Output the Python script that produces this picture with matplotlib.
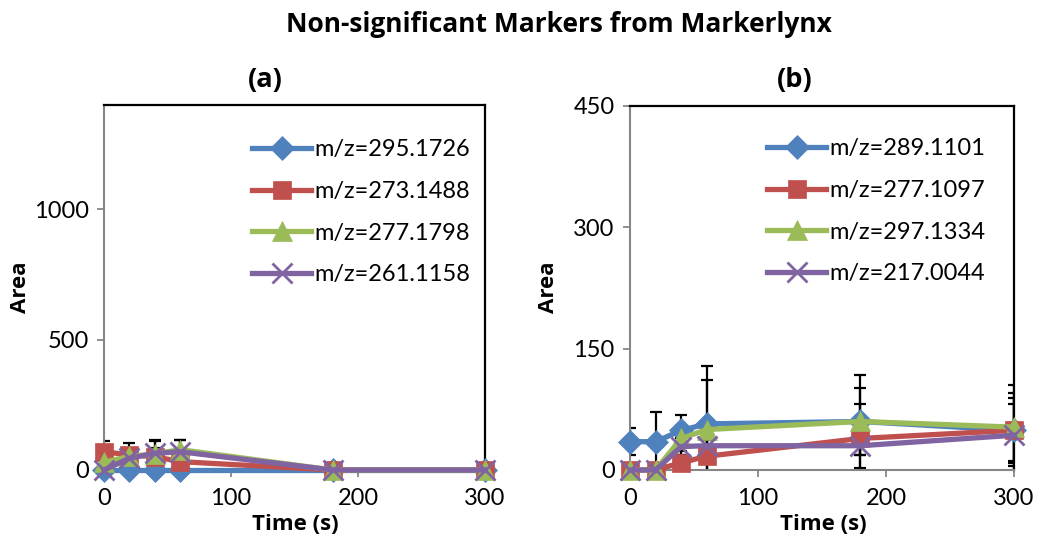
import matplotlib
matplotlib.use("Agg")
import matplotlib.pyplot as plt
from matplotlib.lines import Line2D

plt.rcParams['font.family'] = ['Lato', 'DejaVu Sans']
BOLD_FAMILY = ['Open Sans', 'DejaVu Sans']

# Sampling times (s)
time_s = [0, 20, 40, 60, 180, 300]

# Panel (a) series
labels_a = ["m/z=295.1726", "m/z=273.1488", "m/z=277.1798", "m/z=261.1158"]
area_a_1 = [0, 0, 0, 0, 0, 0]
area_a_2 = [70, 58, 51, 32, 0, 0]
area_a_3 = [30, 52, 62, 78, 0, 0]
area_a_4 = [0, 45, 64, 70, 0, 0]
err_a_1 = [0, 0, 0, 0, 0, 0]
err_a_2 = [40, 45, 35, 30, 0, 0]
err_a_3 = [20, 25, 50, 38, 0, 0]
err_a_4 = [10, 30, 52, 46, 0, 0]

# Panel (b) series
labels_b = ["m/z=289.1101", "m/z=277.1097", "m/z=297.1334", "m/z=217.0044"]
area_b_1 = [35, 35, 49, 57, 60, 49]
area_b_2 = [0, 0, 9, 17, 39, 49]
area_b_3 = [0, 0, 39, 50, 60, 53]
area_b_4 = [0, 0, 29, 30, 30, 43]
err_b_1 = [17, 37, 19, 72, 57, 56]
err_b_2 = [3, 3, 10, 20, 43, 40]
err_b_3 = [3, 3, 15, 61, 41, 42]
err_b_4 = [3, 3, 10, 15, 11, 38]

colors = ["#4F81BD", "#C0504D", "#9BBB59", "#8064A2"]
markers = ["D", "s", "^", "x"]
msizes = [12, 13, 14, 14]

W, H = 1037, 539
fig = plt.figure(figsize=(W / 100, H / 100), dpi=100)


def px_axes(x0, y0, x1, y1):
    return fig.add_axes([x0 / W, (H - y1) / H, (x1 - x0) / W, (y1 - y0) / H])


def style_axes(ax, ymax, yticks):
    ax.set_xlim(0, 300)
    ax.set_ylim(0, ymax)
    ax.set_xticks([0, 100, 200, 300])
    ax.set_yticks(yticks)
    for side in ("left", "bottom"):
        ax.spines[side].set_color("#868686")
        ax.spines[side].set_linewidth(1.5)
    for side in ("top", "right"):
        ax.spines[side].set_color("black")
        ax.spines[side].set_linewidth(1.6)
    ax.tick_params(axis="both", direction="out", length=5, width=1.3,
                   color="#868686", labelsize=17, labelcolor="black")
    ax.tick_params(axis="x", pad=8)
    ax.tick_params(axis="y", pad=6)


def draw_panel(ax, series, errors):
    for vals, errs in zip(series, errors):
        ax.errorbar(time_s, vals, yerr=errs, fmt="none", ecolor="black",
                    elinewidth=1.6, capsize=4.5, capthick=1.6, zorder=2,
                    clip_on=True)
    for i, vals in enumerate(series):
        mew = 2.0 if markers[i] == "x" else 0.5
        ax.plot(time_s, vals, color=colors[i], lw=3.8, marker=markers[i],
                markersize=msizes[i], markeredgewidth=mew,
                markeredgecolor=colors[i], markerfacecolor=colors[i],
                zorder=3 + i, clip_on=False)


ax_a = px_axes(104, 105, 485, 470)
style_axes(ax_a, 1400, [0, 500, 1000])
draw_panel(ax_a, [area_a_1, area_a_2, area_a_3, area_a_4],
           [err_a_1, err_a_2, err_a_3, err_a_4])

ax_b = px_axes(630, 106, 1014, 470)
style_axes(ax_b, 450, [0, 150, 300, 450])
draw_panel(ax_b, [area_b_1, area_b_2, area_b_3, area_b_4],
           [err_b_1, err_b_2, err_b_3, err_b_4])


def add_legend(ax, labels, x_px, y_px):
    handles = [Line2D([], [], color=colors[i], lw=3.8, marker=markers[i],
                      markersize=msizes[i],
                      markeredgewidth=2.0 if markers[i] == "x" else 0.5,
                      markeredgecolor=colors[i], markerfacecolor=colors[i])
               for i in range(4)]
    leg = ax.legend(handles, labels, loc="upper left",
                    bbox_to_anchor=(x_px / W, 1 - y_px / H),
                    bbox_transform=fig.transFigure, frameon=False,
                    fontsize=17, handlelength=2.5, handletextpad=0.15,
                    labelspacing=0.88, borderpad=0, borderaxespad=0)
    return leg


add_legend(ax_a, labels_a, 252, 139)
add_legend(ax_b, labels_b, 767, 138)

# Titles and axis labels
bold = dict(family=BOLD_FAMILY, fontweight="bold", ha="center", va="center")
fig.text(559 / W, 1 - 25 / H, "Non-significant Markers from Markerlynx",
         fontsize=19, **bold)
fig.text(265 / W, 1 - 80 / H, "(a)", fontsize=19.5, **bold)
fig.text(795 / W, 1 - 80 / H, "(b)", fontsize=19.5, **bold)
fig.text(20 / W, 1 - 287 / H, "Area", rotation=90, fontsize=16, **bold)
fig.text(549 / W, 1 - 287 / H, "Area", rotation=90, fontsize=16, **bold)
fig.text(295 / W, 1 - 524 / H, "Time (s)", fontsize=16, **bold)
fig.text(823 / W, 1 - 524 / H, "Time (s)", fontsize=16, **bold)

fig.savefig("out.png", dpi=100, facecolor="white")
